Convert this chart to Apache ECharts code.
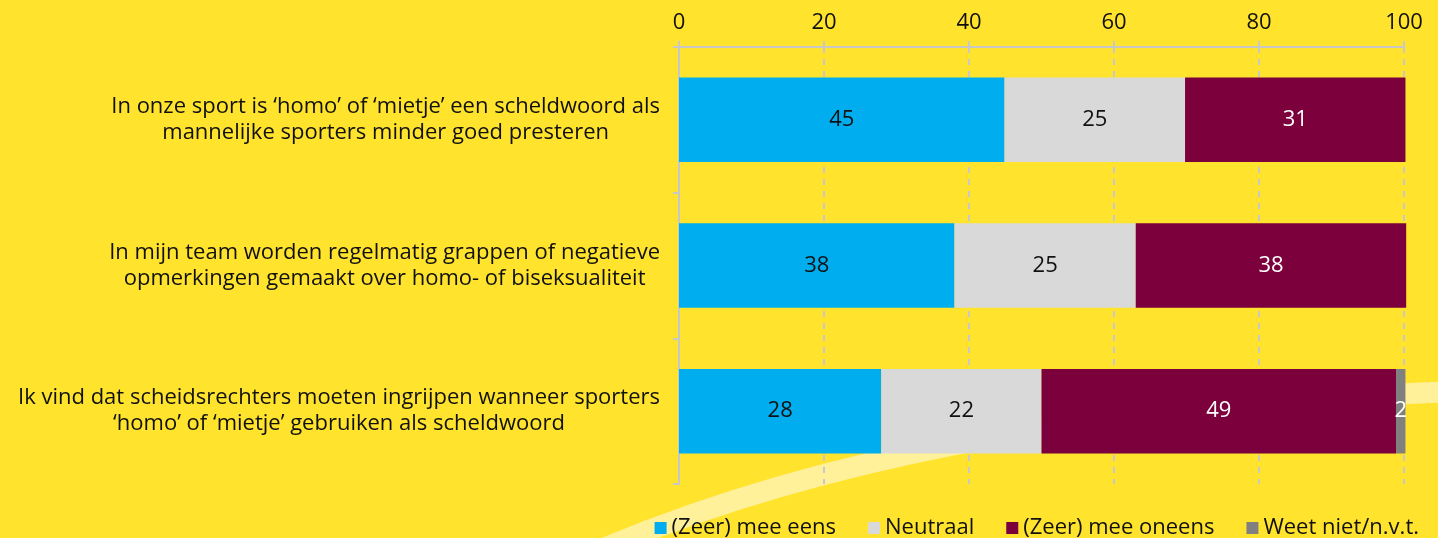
<!DOCTYPE html>
<html>
<head>
<meta charset="utf-8">
<script src="https://cdn.jsdelivr.net/npm/echarts@6/dist/echarts.min.js"></script>
<style>
  html, body { margin: 0; padding: 0; background: #ffe32c; }
  #chart { width: 1438px; height: 538px; }
</style>
</head>
<body>
<div id="chart"></div>
<script>
const categories = [
  "In onze sport is ‘homo’ of ‘mietje’ een scheldwoord als\nmannelijke sporters minder goed presteren",
  "In mijn team worden regelmatig grappen of negatieve\nopmerkingen gemaakt over homo- of biseksualiteit",
  "Ik vind dat scheidsrechters moeten ingrijpen wanneer sporters\n‘homo’ of ‘mietje’ gebruiken als scheldwoord",
];
const seriesNames = ["(Zeer) mee eens", "Neutraal", "(Zeer) mee oneens", "Weet niet/n.v.t."];

// bar lengths
const agreeValues = [44.9, 38.0, 27.9];
const neutralValues = [24.9, 25.0, 22.1];
const disagreeValues = [30.4, 37.3, 48.9];
const unknownValues = [0, 0, 1.3];

// numbers printed in the bars
const agreeLabels = ["45", "38", "28"];
const neutralLabels = ["25", "25", "22"];
const disagreeLabels = ["31", "38", "49"];
const unknownLabels = ["", "", "2"];

const xTicks = [0, 20, 40, 60, 80, 100];

const FONT = "Open Sans";
const colors = ["#00aeef", "#d9d9d9", "#7b003c", "#808080"];
const labelColors = ["#111", "#111", "#fff", "#fff"];

const chart = echarts.init(document.getElementById("chart"));

function makeSeries(i, values, labels) {
  return {
    name: seriesNames[i],
    type: "bar",
    stack: "total",
    barWidth: "58%",
    clip: false,
    itemStyle: { color: colors[i] },
    label: {
      show: true,
      position: "inside",
      fontFamily: FONT,
      fontSize: 22,
      color: labelColors[i],
      formatter: (p) => labels[p.dataIndex],
    },
    emphasis: { disabled: true },
    data: values,
  };
}

const options = {
  backgroundColor: "#ffe32c",
  animation: false,
  textStyle: { fontFamily: FONT },
  graphic: [
    {
      // decorative light swoosh behind the plot
      type: "bezierCurve",
      silent: true,
      z: 0,
      shape: { x1: 600, y1: 550, cpx1: 930, cpy1: 410, x2: 1445, y2: 392 },
      style: { stroke: "#fff09a", lineWidth: 21, fill: null },
    },
  ],
  grid: { left: 679, right: 34, top: 47, bottom: 54 },
  legend: {
    data: seriesNames,
    right: 14,
    top: 512,
    icon: "rect",
    itemWidth: 12,
    itemHeight: 12,
    itemGap: 32,
    textStyle: { fontFamily: FONT, fontSize: 22, color: "#111" },
  },
  xAxis: {
    type: "value",
    position: "top",
    min: xTicks[0],
    max: xTicks[xTicks.length - 1],
    interval: 20,
    axisLine: { show: true, lineStyle: { color: "#c8c8c8", width: 2 } },
    axisTick: { show: true, length: 6, lineStyle: { color: "#c8c8c8", width: 2 } },
    axisLabel: { fontFamily: FONT, fontSize: 22, color: "#111", margin: 13 },
    splitLine: {
      show: true,
      lineStyle: { color: "#c8c8c8", width: 2, type: [6, 6] },
    },
  },
  yAxis: {
    type: "category",
    inverse: true,
    data: categories,
    axisLine: { show: true, lineStyle: { color: "#c8c8c8", width: 2 } },
    axisTick: { show: true, length: 6, lineStyle: { color: "#c8c8c8", width: 2 } },
    axisLabel: {
      margin: 19,
      align: "right",
      formatter: (v) =>
        v
          .split("\n")
          .map((line) => "{c|" + line + "}")
          .join("\n"),
      rich: {
        c: {
          align: "center",
          fontFamily: FONT,
          fontSize: 22,
          lineHeight: 26,
          color: "#111",
        },
      },
    },
  },
  series: [
    makeSeries(0, agreeValues, agreeLabels),
    makeSeries(1, neutralValues, neutralLabels),
    makeSeries(2, disagreeValues, disagreeLabels),
    makeSeries(3, unknownValues, unknownLabels),
  ],
};

chart.setOption(options);
</script>
</body>
</html>
